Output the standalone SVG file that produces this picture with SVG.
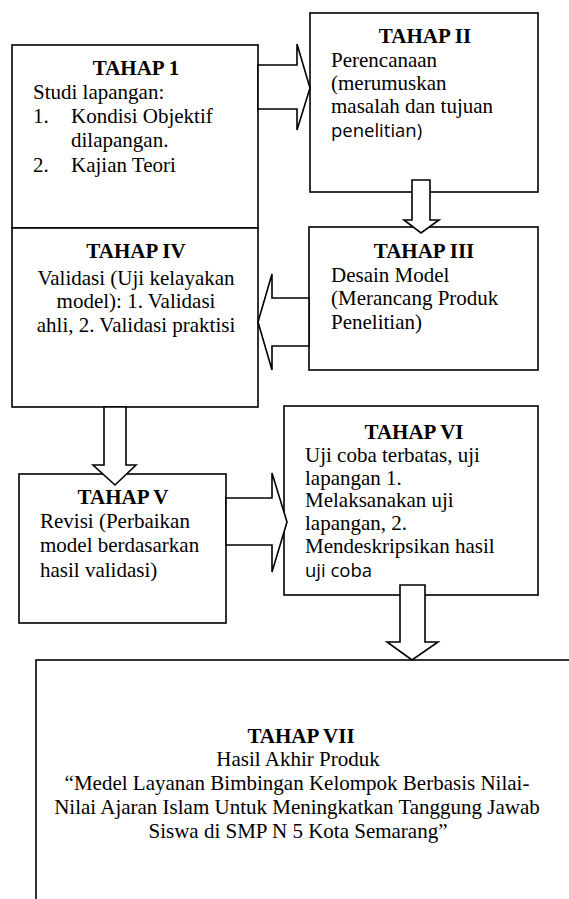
<svg xmlns="http://www.w3.org/2000/svg" width="569" height="899" viewBox="0 0 569 899">
<style>
.box{fill:#fff;stroke:#000;stroke-width:1.6}
.arr{fill:#fff;stroke:#000;stroke-width:1.6;stroke-linejoin:miter}
text{font-family:"Liberation Serif","Times New Roman",serif;font-size:21px;fill:#000}
.h{font-weight:bold;text-anchor:middle}
.c{text-anchor:middle}
.s{font-family:"Open Sans","Liberation Sans",sans-serif;font-size:18.5px}
</style>
<rect width="569" height="899" fill="#fff"/>
<g id="tahap1">
<rect class="box" x="12" y="45" width="246" height="183"/>
<text class="h" x="136" y="75">TAHAP 1</text>
<text x="33" y="99">Studi lapangan:</text>
<text x="33" y="123">1.</text>
<text x="71" y="123">Kondisi Objektif</text>
<text x="71" y="147">dilapangan.</text>
<text x="33" y="172">2.</text>
<text x="71" y="172">Kajian Teori</text>
</g>
<g id="tahap2">
<rect class="box" x="310" y="13" width="228" height="179"/>
<text class="h" x="425" y="43">TAHAP II</text>
<text x="331" y="67">Perencanaan</text>
<text x="331" y="90">(merumuskan</text>
<text x="331" y="113">masalah dan tujuan</text>
<text class="s" x="331" y="137">penelitian)</text>
</g>
<g id="tahap3">
<rect class="box" x="309" y="227" width="229" height="143"/>
<text class="h" x="424" y="258">TAHAP III</text>
<text x="331" y="282">Desain Model</text>
<text x="331" y="305">(Merancang Produk</text>
<text x="331" y="329">Penelitian)</text>
</g>
<g id="tahap4">
<rect class="box" x="12" y="228" width="246" height="179"/>
<text class="h" x="136" y="258">TAHAP IV</text>
<text class="c" x="136" y="285">Validasi (Uji kelayakan</text>
<text class="c" x="136" y="308">model): 1. Validasi</text>
<text class="c" x="136" y="332">ahli, 2. Validasi praktisi</text>
</g>
<g id="tahap5">
<rect class="box" x="19" y="474" width="207" height="149"/>
<text class="h" x="123" y="504">TAHAP V</text>
<text x="40" y="528">Revisi (Perbaikan</text>
<text x="40" y="552">model berdasarkan</text>
<text x="40" y="577">hasil validasi)</text>
</g>
<g id="tahap6">
<rect class="box" x="284" y="406" width="254" height="189"/>
<text class="h" x="414" y="439">TAHAP VI</text>
<text x="305" y="462">Uji coba terbatas, uji</text>
<text x="305" y="485">lapangan 1.</text>
<text x="305" y="507">Melaksanakan uji</text>
<text x="305" y="530">lapangan, 2.</text>
<text x="305" y="553">Mendeskripsikan hasil</text>
<text class="s" x="305" y="577">uji coba</text>
</g>
<g id="tahap7">
<rect class="box" x="36" y="660" width="600" height="300"/>
<text class="h" x="301" y="743">TAHAP VII</text>
<text class="c" x="298" y="766">Hasil Akhir Produk</text>
<text class="c" x="297" y="790">“Medel Layanan Bimbingan Kelompok Berbasis Nilai-</text>
<text class="c" x="297" y="814">Nilai Ajaran Islam Untuk Meningkatkan Tanggung Jawab</text>
<text class="c" x="298" y="838">Siswa di SMP N 5 Kota Semarang”</text>
</g>
<g id="connectors">
<polygon class="arr" points="258,65 297,65 297,44 310,88 297,130 297,109 258,109"/>
<polygon class="arr" points="412,180 430,180 430,220 439,220 421,233 404,220 412,220"/>
<polygon class="arr" points="309,298 272,298 272,274 258,322 272,370 272,346 309,346"/>
<polygon class="arr" points="104,407 126,407 126,465 136,465 115,485 93,465 104,465"/>
<polygon class="arr" points="226,498 272,498 272,473 287,522 272,572 272,545 226,545"/>
<polygon class="arr" points="400,585 425,585 425,642 438,642 412,660 387,642 400,642"/>
</g>
</svg>
